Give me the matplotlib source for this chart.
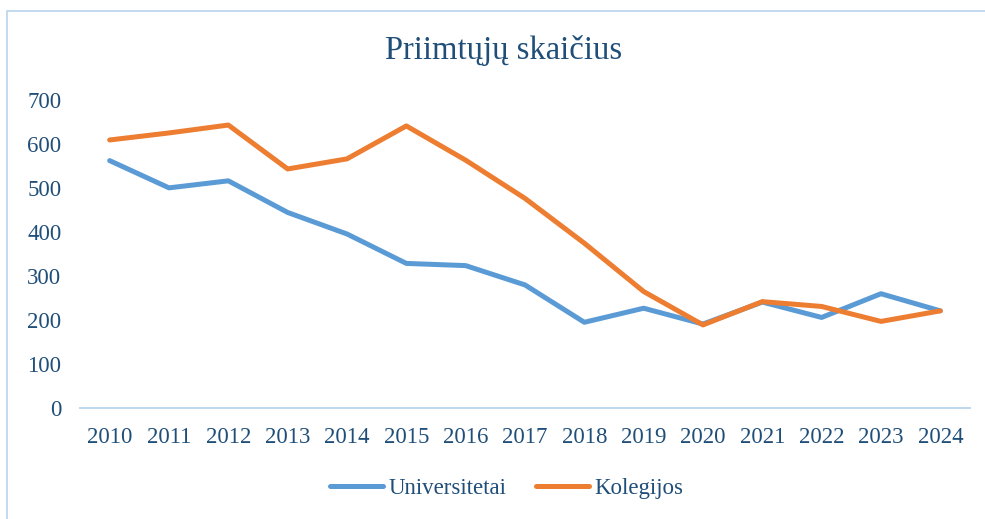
import matplotlib.pyplot as plt
from matplotlib.patches import Rectangle

years = ["2010", "2011", "2012", "2013", "2014", "2015", "2016", "2017",
         "2018", "2019", "2020", "2021", "2022", "2023", "2024"]
universitetai = [562, 500, 516, 444, 395, 328, 323, 279, 194, 226, 190, 240, 205, 259, 220]
kolegijos = [609, 625, 643, 543, 566, 641, 563, 476, 374, 264, 188, 241, 230, 196, 220]
y_ticks = [0, 100, 200, 300, 400, 500, 600, 700]

text_color = "#1F4E79"
axis_color = "#BDD7EE"
font = "Liberation Serif"

fig = plt.figure(figsize=(9.85, 5.19), dpi=100)
ax = fig.add_axes([80 / 985, 111.5 / 519, 890 / 985, (407.5 - 100) / 519])

x = list(range(len(years)))
ax.plot(x, universitetai, color="#5B9BD5", lw=3.6, solid_capstyle="round",
        solid_joinstyle="round", label="Universitetai")
ax.plot(x, kolegijos, color="#ED7D31", lw=3.6, solid_capstyle="round",
        solid_joinstyle="round", label="Kolegijos")

ax.set_xlim(-0.5, len(years) - 0.5)
ax.set_ylim(0, 700)
ax.set_xticks(x)
ax.set_xticklabels(years)
ax.set_yticks(y_ticks)

for side in ("top", "right", "left"):
    ax.spines[side].set_visible(False)
ax.spines["bottom"].set_color(axis_color)
ax.spines["bottom"].set_linewidth(1.4)
ax.tick_params(axis="both", length=0, labelsize=16.5, labelcolor=text_color)
ax.tick_params(axis="y", pad=13.5)
ax.tick_params(axis="x", pad=14)
for lbl in ax.get_xticklabels() + ax.get_yticklabels():
    lbl.set_fontfamily(font)

fig.text(504 / 985, 1 - 51 / 519, "Priimtųjų skaičius", ha="center", va="center",
         fontsize=23.5, color=text_color, family=font)

leg = fig.legend(loc="center", bbox_to_anchor=(507 / 985, 1 - 488 / 519), ncol=2,
                 frameon=False, handlelength=2.3, handletextpad=0.25,
                 columnspacing=1.3, prop={"family": font, "size": 16.5})
for t in leg.get_texts():
    t.set_color(text_color)

# outer chart border
fig.patches.append(Rectangle((7 / 985, -0.02), 1.0, 1 - 10.5 / 519 + 0.02,
                             transform=fig.transFigure, fill=False,
                             edgecolor=axis_color, lw=1.3))

fig.savefig("out.png", dpi=100)
